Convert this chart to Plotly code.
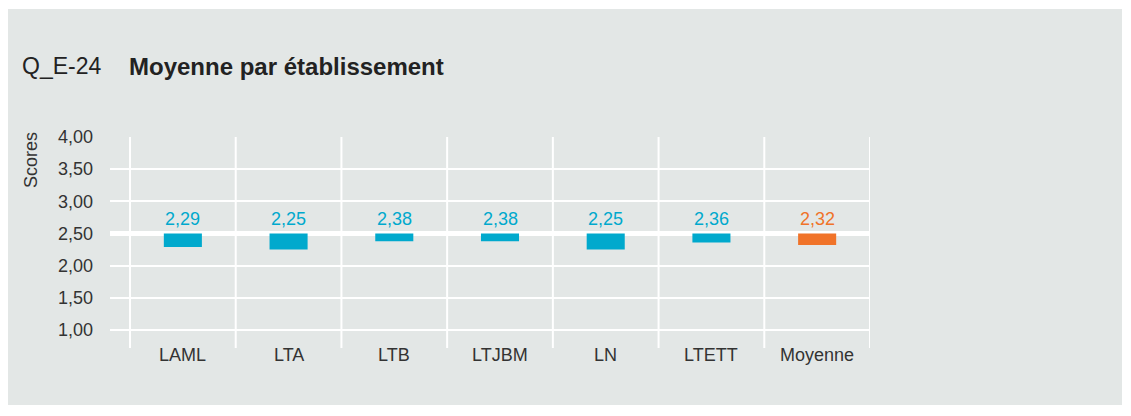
import plotly.graph_objects as go

# Scores moyens par établissement (échelle 1 à 4, référence 2,50)
etablissements = ["LAML", "LTA", "LTB", "LTJBM", "LN", "LTETT", "Moyenne"]
scores = [2.29, 2.25, 2.38, 2.38, 2.25, 2.36, 2.32]
couleurs = ["#00a9cd", "#00a9cd", "#00a9cd", "#00a9cd", "#00a9cd", "#00a9cd", "#f07329"]
y_ticks = [1.0, 1.5, 2.0, 2.5, 3.0, 3.5, 4.0]
reference = 2.5

W, H = 1131, 416
L, R, T, B = 110, 261, 137, 68
plot_w, plot_h = W - L - R, H - T - B


def px_x(px):
    return (px - L) / plot_w


def px_y(py):
    return (H - B - py) / plot_h


font = "Liberation Sans, Arial, Helvetica, sans-serif"
fr = lambda v: f"{v:.2f}".replace(".", ",")

x = list(range(len(etablissements)))

fig = go.Figure(
    go.Bar(
        x=x,
        y=[s - reference for s in scores],
        base=[reference] * len(scores),
        marker=dict(color=couleurs, line=dict(width=0)),
        width=0.36,
        hoverinfo="skip",
    )
)

shapes = [
    # panneau gris de fond
    dict(type="rect", xref="paper", yref="paper",
         x0=px_x(8), x1=px_x(1122), y0=px_y(405), y1=px_y(9),
         fillcolor="#e3e7e6", line=dict(width=0), layer="below"),
    # ligne de référence 2,50
    dict(type="line", xref="paper", yref="y", x0=0, x1=1, y0=reference, y1=reference,
         line=dict(color="white", width=5), layer="between"),
]
# séparateurs verticaux entre établissements
for i in range(len(etablissements) + 1):
    shapes.append(dict(type="line", xref="x", yref="paper", x0=i - 0.5, x1=i - 0.5,
                       y0=0, y1=1, line=dict(color="white", width=2), layer="between"))

annotations = []
# valeurs au-dessus de la ligne de référence
for i, (s, c) in enumerate(zip(scores, couleurs)):
    annotations.append(dict(x=i, y=reference, yshift=14, text=fr(s), showarrow=False,
                            xanchor="center", yanchor="middle",
                            font=dict(family=font, size=18, color=c)))

# noms des établissements sous le graphique
for i, nom in enumerate(etablissements):
    annotations.append(dict(x=i, xref="x", yref="paper", y=px_y(355), text=nom,
                            showarrow=False, xanchor="center", yanchor="middle",
                            font=dict(family=font, size=18, color="#333333")))

annotations += [
    dict(xref="paper", yref="paper", x=px_x(20), y=px_y(66), text="Q_E-24",
         showarrow=False, xanchor="left", yanchor="middle",
         font=dict(family=font, size=23, color="#222222")),
    dict(xref="paper", yref="paper", x=px_x(127), y=px_y(66),
         text="<b>Moyenne par établissement</b>",
         showarrow=False, xanchor="left", yanchor="middle",
         font=dict(family=font, size=24, color="#222222")),
    dict(xref="paper", yref="paper", x=px_x(31), y=px_y(130), text="Scores",
         showarrow=False, textangle=-90, xanchor="center", yanchor="top",
         font=dict(family=font, size=18, color="#333333")),
]

fig.update_layout(
    width=W, height=H,
    margin=dict(l=L, r=R, t=T, b=B, pad=0),
    paper_bgcolor="white",
    plot_bgcolor="rgba(0,0,0,0)",
    showlegend=False,
    shapes=shapes,
    annotations=annotations,
    xaxis=dict(
        range=[-0.5 - 20 / 105.7, len(etablissements) - 0.5],
        showticklabels=False,
        showgrid=False, zeroline=False, showline=False, ticks="",
        fixedrange=True,
    ),
    yaxis=dict(
        range=[0.72, 4.0],
        tickmode="array", tickvals=y_ticks, ticktext=[fr(v) for v in y_ticks],
        showgrid=True, gridcolor="white", gridwidth=2,
        zeroline=False, showline=False, ticks="",
        ticklabelstandoff=16,
        tickfont=dict(family=font, size=18, color="#333333"),
        fixedrange=True,
    ),
)

fig.write_html("out.html")
